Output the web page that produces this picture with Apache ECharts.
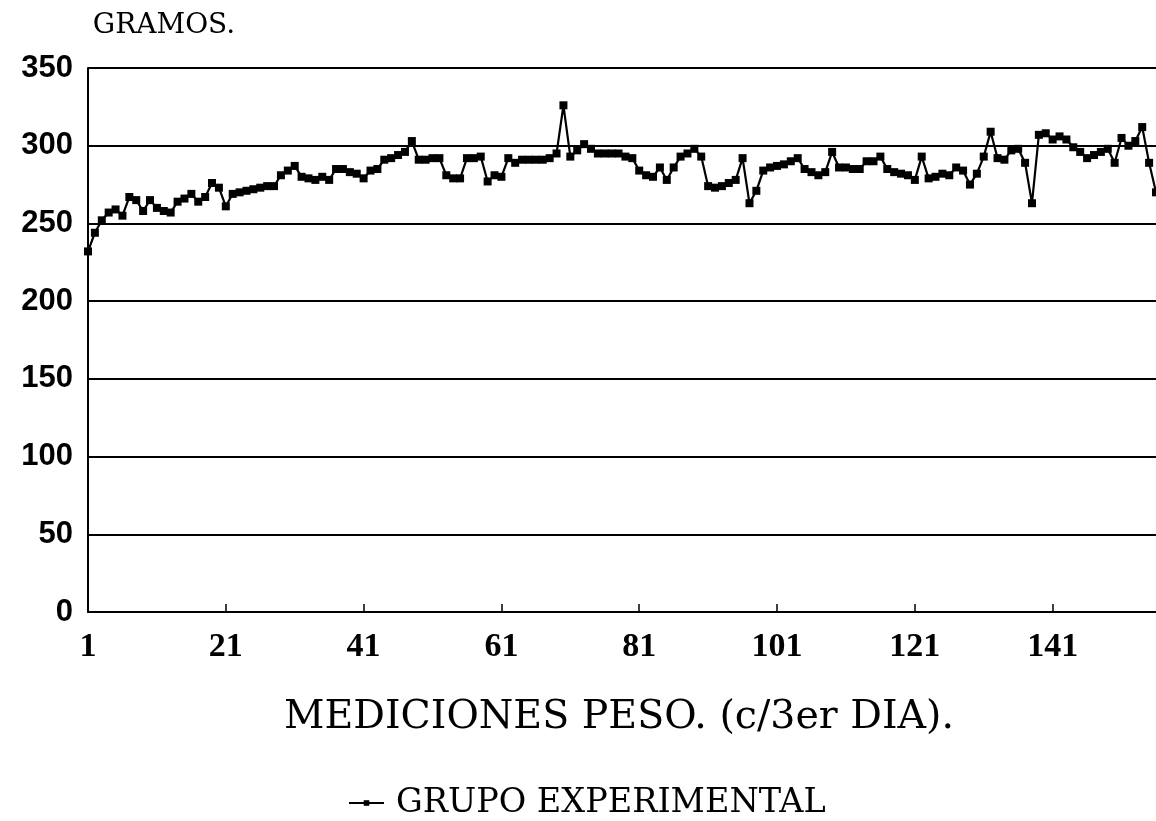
<!DOCTYPE html>
<html>
<head>
<meta charset="utf-8">
<script src="https://cdn.jsdelivr.net/npm/echarts@6/dist/echarts.min.js"></script>
<style>
html,body{margin:0;padding:0;background:#fff;}
#chart{width:1156px;height:821px;}
</style>
</head>
<body>
<div id="chart"></div>
<script>
// Measurement numbers (every 3rd day)
var measurementCount = 156;
var categories = [];
for (var i = 1; i <= measurementCount; i++) categories.push(String(i));

// Weight in grams, GRUPO EXPERIMENTAL
var grupoExperimental = [
  232,244,252,257,259,255,267,265,258,265,
  260,258,257,264,266,269,264,267,276,273,
  261,269,270,271,272,273,274,274,281,284,
  287,280,279,278,280,278,285,285,283,282,
  279,284,285,291,292,294,296,303,291,291,
  292,292,281,279,279,292,292,293,277,281,
  280,292,289,291,291,291,291,292,295,326,
  293,297,301,298,295,295,295,295,293,292,
  284,281,280,286,278,286,293,295,298,293,
  274,273,274,276,278,292,263,271,284,286,
  287,288,290,292,285,283,281,283,296,286,
  286,285,285,290,290,293,285,283,282,281,
  278,293,279,280,282,281,286,284,275,282,
  293,309,292,291,297,298,289,263,307,308,
  304,306,304,299,296,292,294,296,298,289,
  305,300,303,312,289,270
];

var yTicks = { min: 0, max: 350, interval: 50 };
var seriesName = 'GRUPO EXPERIMENTAL';
var xTitle = 'MEDICIONES PESO. (c/3er DIA).';
var yTitle = 'GRAMOS.';

var chart = echarts.init(document.getElementById('chart'), null, {renderer: 'canvas'});
chart.setOption({
  backgroundColor: '#ffffff',
  animation: false,
  grid: { left: 88, right: -2, top: 68, bottom: 209, containLabel: false },
  xAxis: {
    type: 'category',
    data: categories,
    boundaryGap: false,
    axisLine: { show: true, lineStyle: { color: '#000', width: 2 } },
    axisTick: { show: true, inside: true, length: 8, interval: 19, lineStyle: { color: '#000', width: 1.5 } },
    axisLabel: {
      interval: 19, margin: 18, color: '#000',
      fontFamily: 'Liberation Serif', fontWeight: 'bold', fontSize: 34
    },
    splitLine: { show: false }
  },
  yAxis: {
    type: 'value',
    min: yTicks.min, max: yTicks.max, interval: yTicks.interval,
    axisLine: { show: true, lineStyle: { color: '#000', width: 2 } },
    axisTick: { show: false },
    axisLabel: {
      margin: 15, color: '#000',
      fontFamily: '"Liberation Sans", sans-serif', fontWeight: 'bold', fontSize: 31
    },
    splitLine: { show: true, lineStyle: { color: '#000', width: 2 } }
  },
  legend: {
    data: [seriesName],
    left: 343, top: 781,
    itemWidth: 35, itemHeight: 7, itemGap: 8,
    textStyle: { color: '#000', fontFamily: 'DejaVu Serif', fontSize: 33.5, padding: [0, 0, 0, 7] }
  },
  graphic: [
    { type: 'text', x: 164, y: 26, style: { text: yTitle, textAlign: 'center', textVerticalAlign: 'middle', fill: '#000', font: '28px "DejaVu Serif"' } },
    { type: 'text', x: 619, y: 718, style: { text: xTitle, textAlign: 'center', textVerticalAlign: 'middle', fill: '#000', font: '39.5px "DejaVu Serif"' } }
  ],
  series: [{
    name: seriesName,
    type: 'line',
    data: grupoExperimental,
    symbol: 'rect',
    symbolSize: 8,
    showAllSymbol: true,
    lineStyle: { color: '#000', width: 2.2 },
    itemStyle: { color: '#000' }
  }]
});
</script>
</body>
</html>
